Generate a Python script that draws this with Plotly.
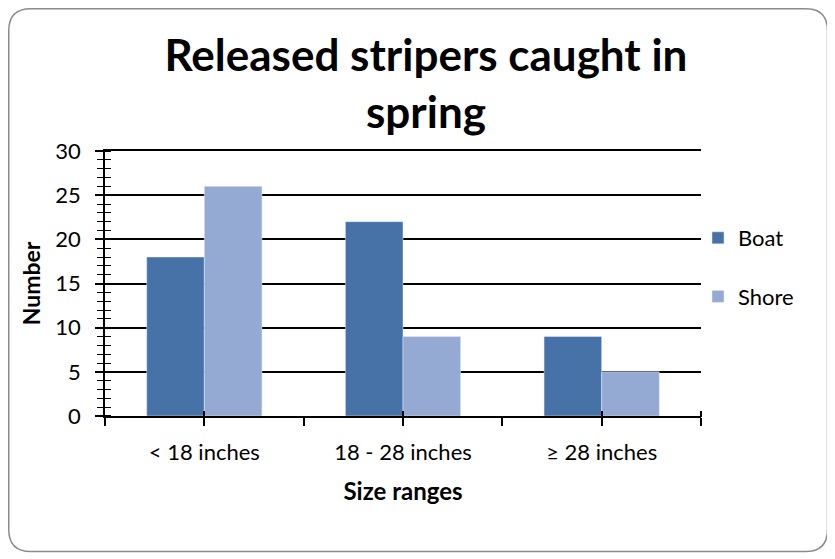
import plotly.graph_objects as go

categories = ["< 18 inches", "18 - 28 inches", "≥ 28 inches"]
boat = [18, 22, 9]
shore = [26, 9, 5]
series_names = ["Boat", "Shore"]
colors = ["#4672A8", "#95AAD3"]

# the page body has an 8px margin, so the figure is sized/positioned to compensate
W, H = 827, 551
L, R, T, B = 97, 693, 143, 408
pw, ph = R - L, B - T

xpos = list(range(len(categories)))

fig = go.Figure()
fig.add_trace(go.Bar(x=xpos, y=boat, name=series_names[0], marker_color=colors[0],
                     legendgroup="a"))
fig.add_trace(go.Bar(x=xpos, y=shore, name=series_names[1], marker_color=colors[1],
                     legendgroup="b"))
# invisible trace to anchor the overlay axes (crossing ticks)
fig.add_trace(go.Scatter(x=[0], y=[0], xaxis="x2", yaxis="y2", mode="markers",
                         marker=dict(opacity=0), showlegend=False, hoverinfo="skip"))

font_main = "Lato, 'Open Sans', sans-serif"

tickvals = []
ticktext = []
for i, c in enumerate(categories):
    tickvals += [i - 0.5, i]
    ticktext += ["", c]
tickvals.append(len(categories) - 0.5)
ticktext.append("")
cross_vals = xpos + [len(categories) - 0.5]

def fx(x):
    return (x - L) / pw

def fy(y):
    return (B - y) / ph

# rounded border path in paper coords
x0, x1, y0, y1, r = 0.75, 819.5, 0.75, 543.5, 22
def P(x, y):
    return f"{fx(x):.5f},{fy(y):.5f}"
path = (f"M {P(x0 + r, y0)} L {P(x1 - r, y0)} Q {P(x1, y0)} {P(x1, y0 + r)} "
        f"L {P(x1, y1 - r)} Q {P(x1, y1)} {P(x1 - r, y1)} "
        f"L {P(x0 + r, y1)} Q {P(x0, y1)} {P(x0, y1 - r)} "
        f"L {P(x0, y0 + r)} Q {P(x0, y0)} {P(x0 + r, y0)} Z")

fig.update_layout(
    width=W, height=H,
    margin=dict(l=L, r=W - R, t=T, b=H - B),
    paper_bgcolor="white", plot_bgcolor="white",
    barmode="group", bargap=0.42, bargroupgap=0,
    font=dict(family=font_main, color="black", size=22),
    title=dict(text="<b>Released stripers caught in<br>spring</b>",
               x=418 / W, xanchor="center", y=1 - 63 / H, yanchor="top",
               font=dict(size=44, family=font_main, color="black")),
    xaxis=dict(range=[-0.5, len(categories) - 0.5], tickmode="array",
               tickvals=tickvals, ticktext=ticktext, ticks="outside", ticklen=8,
               tickwidth=1.5, tickcolor="black", ticklabelstandoff=8,
               showline=True, linecolor="black", linewidth=1.5, showgrid=False,
               mirror=True, zeroline=False, tickfont=dict(size=22),
               title=dict(text="<b>Size ranges</b>", font=dict(size=24), standoff=19)),
    xaxis2=dict(range=[-0.5, len(categories) - 0.5], overlaying="x", anchor="free",
                position=6 / ph, side="bottom", tickmode="array", tickvals=cross_vals,
                ticks="outside", ticklen=6, tickwidth=1.5, tickcolor="black",
                showticklabels=False, showgrid=False, zeroline=False, showline=False),
    yaxis=dict(range=[0, 30], dtick=5, ticks="outside", ticklen=8, tickwidth=1.5,
               tickcolor="black", showline=True, linecolor="black", linewidth=1.5,
               showgrid=True, gridcolor="black", gridwidth=1.5, zeroline=False,
               ticklabelstandoff=10,
               minor=dict(dtick=1, ticks="outside", ticklen=6, tickcolor="black",
                          tickwidth=1, showgrid=False),
               tickfont=dict(size=22),
               title=dict(text="<b>Number</b>", font=dict(size=23), standoff=8)),
    yaxis2=dict(range=[0, 30], overlaying="y", anchor="free", position=6 / pw,
                side="left", dtick=5, ticks="outside", ticklen=6, tickwidth=1.5,
                tickcolor="black", showticklabels=False, showgrid=False,
                zeroline=False, showline=False,
                minor=dict(dtick=1, ticks="outside", ticklen=6, tickcolor="black",
                           tickwidth=1)),
    legend=dict(x=fx(690), y=fy(209), xanchor="left", yanchor="top",
                font=dict(size=22), tracegroupgap=27, traceorder="grouped",
                bgcolor="rgba(0,0,0,0)", itemwidth=30),
    shapes=[dict(type="path", xref="paper", yref="paper", path=path,
                 line=dict(color="#8c8c8c", width=1.5), layer="below")],
)

fig.write_html("out.html")
